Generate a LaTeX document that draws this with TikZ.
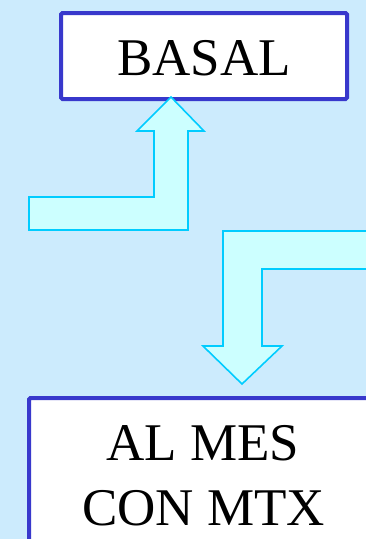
\documentclass[tikz,border=0pt]{standalone}
\usepackage{fontspec}
\setmainfont{Liberation Serif}
\definecolor{bgblue}{RGB}{204,235,253}
\definecolor{arrowfill}{RGB}{204,255,255}
\definecolor{arrowline}{RGB}{0,204,255}
\definecolor{boxline}{RGB}{56,56,204}
\begin{document}
\begin{tikzpicture}[x=1pt,y=-1pt,
  boxframe/.style={draw=boxline,line width=4pt,fill=white,rounded corners=1.5pt},
  bigarrow/.style={draw=arrowline,line width=1.6pt,fill=arrowfill,line join=miter},
  label/.style={font=\fontsize{53}{64}\selectfont,text=black,inner sep=0pt,align=center}]
\useasboundingbox (0,0) rectangle (366,539);
\clip (0,0) rectangle (366,539);
\fill[bgblue] (0,0) rectangle (366,539);
% top box
\draw[boxframe] (61,13) rectangle (347,99);
\node[label,anchor=base] (basal) at (204,75) {BASAL};
% up arrow
\draw[bigarrow] (29,197) -- (154,197) -- (154,131) -- (137,131) -- (171,97)
  -- (204,131) -- (188,131) -- (188,230) -- (29,230) -- cycle;
% down arrow
\draw[bigarrow] (372,231) -- (223,231) -- (223,346) -- (203,346) -- (242,384)
  -- (282,346) -- (262,346) -- (262,269) -- (372,269);
% bottom box
\draw[boxframe] (29,398) rectangle (420,600);
\node[label,anchor=base] (almes) at (203,460) {AL MES};
\node[label,anchor=base] (conmtx) at (203.5,525) {CON MTX};
\end{tikzpicture}
\end{document}
